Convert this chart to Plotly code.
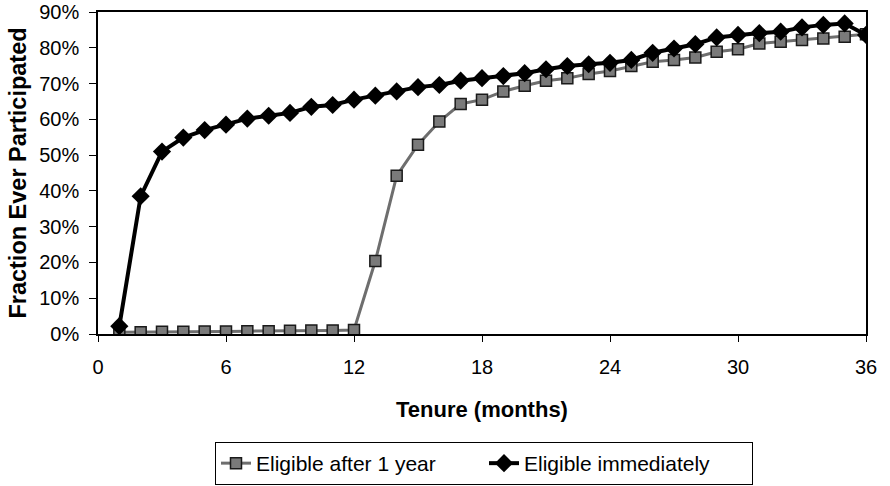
import plotly.graph_objects as go

months = list(range(1, 37))
after_1yr = [0.5, 0.5, 0.6, 0.6, 0.7, 0.7, 0.8, 0.8, 0.9, 1.0, 1.0, 1.1,
             20.4, 44.2, 52.9, 59.4, 64.3, 65.5, 67.8, 69.4, 70.8, 71.5, 72.7, 73.5,
             74.9, 76.1, 76.6, 77.3, 78.9, 79.6, 81.2, 81.7, 82.2, 82.6, 83.1, 83.8]
immediately = [2.2, 38.5, 51.0, 54.9, 57.0, 58.5, 60.2, 61.0, 61.8, 63.5, 64.0, 65.5,
               66.6, 67.8, 69.0, 69.6, 70.8, 71.5, 72.1, 72.9, 74.0, 74.9, 75.4, 75.8,
               76.6, 78.6, 79.8, 81.0, 82.9, 83.6, 84.1, 84.5, 85.7, 86.4, 86.8, 83.6]
x_ticks = [0, 6, 12, 18, 24, 30, 36]
y_ticks = [0, 10, 20, 30, 40, 50, 60, 70, 80, 90]
y_labels = [f"{v}%" for v in y_ticks]

fig = go.Figure()
fig.add_trace(go.Scatter(
    x=months, y=after_1yr, name="Eligible after 1 year", mode="lines+markers",
    line=dict(color="#6e6e6e", width=3),
    marker=dict(symbol="square", size=11, color="#7a7a7a",
                line=dict(color="#1a1a1a", width=1.5)),
))
fig.add_trace(go.Scatter(
    x=months, y=immediately, name="Eligible immediately", mode="lines+markers",
    line=dict(color="black", width=4),
    marker=dict(symbol="diamond", size=14, color="black"),
))

font_family = "Liberation Sans, Arial, sans-serif"
fig.update_layout(
    width=890, height=486,
    margin=dict(l=98, r=24, t=12, b=152, autoexpand=False),
    paper_bgcolor="white", plot_bgcolor="white",
    font=dict(family=font_family, size=20, color="black"),
    showlegend=True,
    legend=dict(orientation="h", xref="container", x=215 / 890, xanchor="left",
                yref="container", y=(486 - 442) / 486, yanchor="top",
                bordercolor="black", borderwidth=1, font=dict(size=21),
                traceorder="normal", entrywidth=223, entrywidthmode="pixels"),
)
fig.update_xaxes(
    range=[0, 36], tickvals=x_ticks, ticktext=[str(v) for v in x_ticks],
    showgrid=False, zeroline=False, showline=True, linecolor="black", linewidth=1.5,
    mirror=True, ticks="outside", ticklen=6, tickcolor="black", automargin=False,
    tickfont=dict(size=20), ticklabelstandoff=8,
    title=dict(text="<b>Tenure (months)</b>", font=dict(size=22), standoff=25),
)
fig.update_yaxes(
    range=[0, 90], tickvals=y_ticks, ticktext=y_labels,
    showgrid=False, zeroline=False, showline=True, linecolor="black", linewidth=1.5,
    mirror=True, ticks="outside", ticklen=7, tickcolor="black", automargin=False,
    tickfont=dict(size=20), ticklabelstandoff=6,
    title=dict(text="<b>Fraction Ever Participated</b>", font=dict(size=23.5), standoff=6),
)

fig.write_html("out.html", config={"displayModeBar": False},
               post_script="document.body.style.margin='0';")
